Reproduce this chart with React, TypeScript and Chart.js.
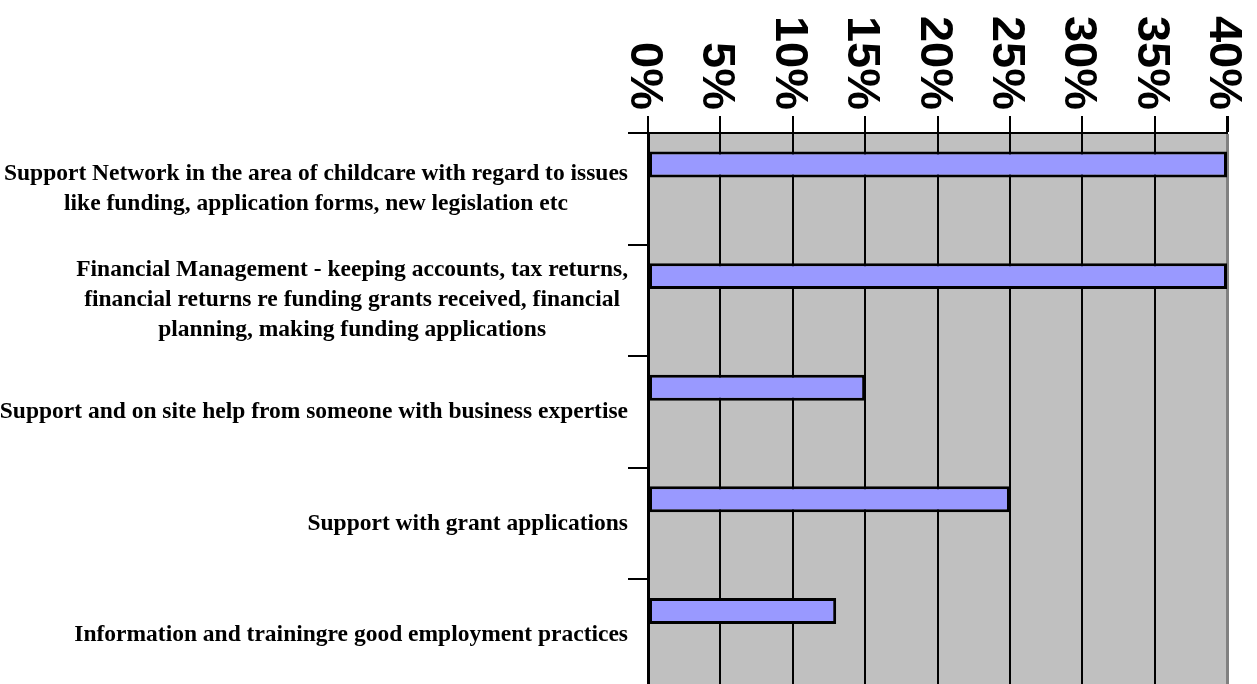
import React, { useEffect, useRef } from "react";
import { Chart, registerables } from "chart.js";

Chart.register(...registerables);

const categoryLines: string[][] = [
  ["Support Network in the area of childcare with regard to issues", "like funding, application forms, new legislation etc"],
  ["Financial Management - keeping accounts, tax returns,", "financial returns re funding grants received, financial", "planning, making funding applications"],
  ["Support and on site help from someone with business expertise"],
  ["Support with grant applications"],
  ["Information and trainingre good employment practices"],
];
const values: number[] = [40, 40, 15, 25, 13];
const emptySeries: (number | null)[] = [null, null, null, null, null];
const xTickValues: number[] = [0, 5, 10, 15, 20, 25, 30, 35, 40];
const xTickLabels: string[] = ["0%", "5%", "10%", "15%", "20%", "25%", "30%", "35%", "40%"];

const labelPlugin = {
  id: "customLabels",
  beforeDraw(chart: any) {
    const { ctx, chartArea } = chart;
    ctx.save();
    ctx.fillStyle = "#C0C0C0";
    ctx.fillRect(chartArea.left, chartArea.top, chartArea.right - chartArea.left, chartArea.bottom - chartArea.top);
    ctx.restore();
  },
  afterDraw(chart: any) {
    const { ctx, chartArea } = chart;
    const xs = chart.scales.x;
    const ys = chart.scales.y;
    ctx.save();
    ctx.fillStyle = "#000";
    ctx.font = 'bold 47px "Liberation Sans", Arial, sans-serif';
    ctx.textAlign = "right";
    ctx.textBaseline = "alphabetic";
    xTickValues.forEach((v, i) => {
      const px = xs.getPixelForValue(v);
      const txt = xTickLabels[i];
      const m = ctx.measureText(txt);
      const asc = m.actualBoundingBoxAscent;
      const desc = m.actualBoundingBoxDescent;
      ctx.save();
      ctx.translate(px - 1, chartArea.top - 23);
      ctx.rotate(Math.PI / 2);
      ctx.fillText(txt, 0, (asc - desc) / 2);
      ctx.restore();
    });

    ctx.font = 'bold 23.5px "Liberation Serif", "Times New Roman", serif';
    ctx.textAlign = "center";
    ctx.textBaseline = "middle";
    const rightEdge = chartArea.left - 20;
    const lineH = 30;
    categoryLines.forEach((lines, i) => {
      const cy = ys.getPixelForValue(i);
      const w = Math.max(...lines.map((l) => ctx.measureText(l).width));
      const cx = rightEdge - w / 2;
      lines.forEach((ln, j) => {
        ctx.fillText(ln, cx, cy + (j - (lines.length - 1) / 2) * lineH);
      });
    });
    ctx.restore();
  },
};

export default function App() {
  const ref = useRef<HTMLCanvasElement | null>(null);
  useEffect(() => {
    if (!ref.current) return;
    const chart = new Chart(ref.current, {
      type: "bar",
      data: {
        labels: categoryLines.map((l) => l.join(" ")),
        datasets: [
          {
            data: values,
            backgroundColor: "#9999FF",
            borderColor: "#000000",
            borderWidth: 3,
            borderSkipped: false,
            categoryPercentage: 0.87,
            barPercentage: 0.535,
          },
          {
            data: emptySeries as any,
            backgroundColor: "#993366",
            borderColor: "#000000",
            borderWidth: 3,
            borderSkipped: false,
            categoryPercentage: 0.87,
            barPercentage: 0.535,
          },
        ],
      },
      options: {
        indexAxis: "y",
        responsive: false,
        animation: false,
        devicePixelRatio: 1,
        layout: { padding: { left: 0, right: 30, top: 0, bottom: 0 } },
        plugins: { legend: { display: false }, tooltip: { enabled: false } },
        scales: {
          x: {
            position: "top",
            min: 0,
            max: 40,
            afterBuildTicks: (s: any) => {
              s.ticks = xTickValues.map((v) => ({ value: v }));
            },
            ticks: { display: false },
            grid: {
              color: (c: any) => (c.tick && c.tick.value === 40 ? "#808080" : "#000000"),
              tickColor: "#000000",
              lineWidth: (c: any) => (c.tick && c.tick.value === 40 ? 3 : 2),
              tickLength: 17,
              drawOnChartArea: true,
            },
            border: { display: true, color: "#000000", width: 2 },
            afterFit: (s: any) => {
              s.height = 133;
            },
          },
          y: {
            position: "left",
            grid: {
              offset: true,
              drawOnChartArea: false,
              color: "#000000",
              lineWidth: 2,
              tickLength: 20,
            },
            ticks: { display: false },
            border: { display: true, color: "#000000", width: 3 },
            afterFit: (s: any) => {
              s.width = 648;
            },
          },
        },
      } as any,
      plugins: [labelPlugin],
    });
    return () => chart.destroy();
  }, []);
  return (
    <div style={{ position: "fixed", left: 0, top: 0, width: 1257, height: 684, overflow: "hidden", background: "#fff" }}>
      <canvas ref={ref} width={1257} height={691} style={{ display: "block", width: 1257, height: 691 }} />
    </div>
  );
}
